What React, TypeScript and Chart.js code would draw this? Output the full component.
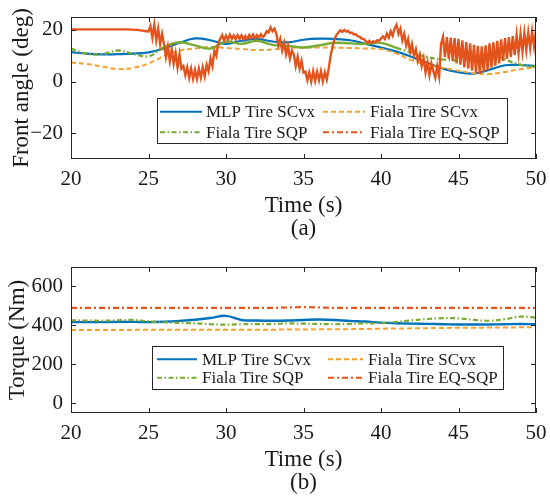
import React, { useEffect, useRef } from "react";
import { Chart, registerables } from "chart.js";

Chart.register(...registerables);

// ---------- data ----------
const seriesNames = ["MLP Tire SCvx", "Fiala Tire SCvx", "Fiala Tire SQP", "Fiala Tire EQ-SQP"];
const xTicks = [20, 25, 30, 35, 40, 45, 50];
const angleTicks = [-20, 0, 20];
const torqueTicks = [0, 200, 400, 600];

// sample times (s) for the smooth curves
const timeSmooth = [20, 21, 22, 23, 24, 25, 26, 27, 28, 29, 30, 31, 32, 33, 34, 35, 36, 37, 38, 39, 40, 41, 42, 43, 44, 45, 46, 47, 48, 49, 50];

// (a) front angle (deg)
const angleMLP = [11.4, 10.8, 10.5, 10.6, 10.8, 11.3, 12.8, 15.0, 16.7, 16.0, 14.6, 15.8, 16.5, 15.5, 15.2, 16.2, 16.6, 16.5, 16.0, 14.6, 13.2, 11.6, 9.5, 7.2, 5.0, 3.6, 3.1, 4.6, 6.3, 6.4, 6.0];
const angleSCvx = [7.4, 6.8, 5.8, 4.9, 5.3, 7.0, 9.8, 12.0, 12.8, 13.4, 13.0, 12.6, 12.2, 12.4, 13.0, 13.2, 13.2, 13.1, 13.0, 12.8, 12.6, 10.8, 8.2, 6.3, 5.3, 4.2, 3.2, 2.9, 3.7, 4.8, 5.6];
const angleSQP = [12.7, 10.8, 10.6, 12.0, 10.8, 9.8, 13.3, 15.2, 14.0, 12.8, 15.5, 14.6, 15.8, 14.2, 13.8, 13.2, 14.0, 15.0, 14.8, 14.6, 15.0, 13.0, 11.2, 9.5, 8.5, 8.3, 9.5, 10.8, 8.5, 6.5, 5.6];
// EQ-SQP sampled every 0.125 s from 20 s
const angleEQStart = 20;
const angleEQStep = 0.125;
const angleEQ = [
  20.2, 20.2, 20.2, 20.2, 20.2, 20.2, 20.2, 20.2, 20.2, 20.2, 20.2, 20.2, 20.2, 20.2, 20.2, 20.2,
  20.2, 20.2, 20.2, 20.2, 20.2, 20.2, 20.2, 20.2, 20.2, 20.2, 20.2, 20.2, 20.2, 20.2, 20.2,
  20.1, 20.1, 20.0, 20.0, 19.9, 19.8, 19.7, 19.6, 19.5, 19.4,
  21.5, 17.0, 22.0, 16.0, 20.5, 14.5, 18.5,
  14.5, 9.5, 13.5, 8.0, 12.5, 7.0, 11.0, 5.5, 10.5, 5.0,
  6.0, 2.5, 5.5, 1.5, 5.0, 1.0, 4.5, 1.0, 5.0, 1.5, 5.5, 2.0, 6.5,
  4.0, 9.0, 6.0, 12.0, 10.0, 15.0,
  16.5, 18.0, 16.0, 17.8, 16.2, 18.2, 16.5, 17.8, 16.4, 18.0, 16.6, 17.9, 16.3, 17.6, 16.5, 18.0, 16.8, 18.2, 16.7, 18.0, 17.0, 18.3, 17.2,
  18.0, 19.5, 19.0, 21.0, 19.5, 20.5,
  18.5, 14.0, 16.5, 12.0, 15.0, 10.5, 13.5, 9.0, 12.0,
  10.5, 6.0, 9.5, 5.0, 8.0, 3.5,
  3.8, 0.5, 3.5, 0.0, 4.0, 0.3, 3.8, 0.5, 4.0, 0.2, 3.6, 0.8,
  5.0, 10.0, 13.5, 16.5, 18.0, 19.0,
  19.8, 19.2, 20.0, 19.3, 19.6, 18.8, 19.0, 18.2, 18.3, 17.5, 17.4, 16.6, 16.5, 15.8,
  15.0, 15.8, 14.8, 15.6, 15.2, 16.0, 15.8, 16.6,
  17.5, 16.5, 18.5, 17.0, 19.5, 17.8, 20.5, 22.0,
  18.5, 20.5, 16.0, 18.5, 14.0, 16.5, 11.5, 14.5, 10.0, 12.5, 8.0, 10.5,
  6.0, 9.0, 3.5, 7.5, 2.5, 7.0, 4.0, 1.5, 6.0, 2.0,
  14.6,
  17.3, 9.5, 17.2, 8.8, 17.0, 8.0, 16.8, 7.0, 16.5, 6.5, 16.0, 5.5, 15.3, 5.0, 14.8, 4.2,
  14.2, 3.5, 13.8, 3.0, 13.6, 3.8, 14.0, 4.5, 14.8, 5.5, 15.2, 6.2, 15.8, 7.0, 16.3, 8.0,
  16.8, 8.8, 17.2, 9.5, 17.6, 10.2, 18.0, 11.0, 18.4, 11.6, 18.8, 12.2, 19.0, 13.0, 19.4, 13.6,
  19.6,
];

// (b) torque (Nm)
const torqueMLP = [417, 417, 417, 418, 418, 417, 419, 423, 429, 438, 449, 428, 425, 424, 425, 428, 430, 428, 423, 420, 414, 411, 409, 408, 406, 405, 405, 405, 406, 407, 406];
const torqueSCvx = [377, 377, 377, 377, 377, 378, 378, 378, 378, 378, 378, 378, 378, 378, 379, 379, 380, 380, 381, 382, 383, 384, 385, 386, 387, 388, 388, 389, 389, 390, 391];
const torqueSQP = [426, 425, 424, 426, 428, 421, 416, 413, 411, 406, 404, 406, 407, 407, 410, 409, 407, 406, 408, 410, 412, 418, 426, 433, 437, 436, 428, 424, 432, 445, 440];
const torqueEQ = [490, 490, 490, 490, 490, 490, 490, 490, 490, 490, 490, 490, 490, 490, 492, 494, 492, 490, 490, 490, 490, 490, 490, 490, 490, 490, 490, 490, 490, 490, 490];

// ---------- styling ----------
const FONT = '"Liberation Serif", "Times New Roman", serif';
const TEXT = "#1a1a1a";
const FRAME = "#262626";
const COLORS = ["#0072BD", "#F4A12E", "#77AC30", "#E3541C"];
const DASHES: number[][] = [[], [5, 3], [5, 2.5, 1.5, 2.5], [6, 3, 2, 3]];
const DRAW_ORDER = [3, 2, 1, 0];

const pts = (xs: number[], ys: number[]) => ys.map((y, i) => ({ x: xs[i], y }));
const stepPts = (start: number, step: number, ys: number[]) => ys.map((y, i) => ({ x: start + i * step, y }));

// solidSpans: per series, x-ranges where the line renders solid (dense sampling in the original)
function makeDatasets(series: { x: number; y: number }[][], tensions: number[], widths: number[], solidSpans: number[][][]) {
  return series.map((data, i) => ({
    label: seriesNames[i],
    data,
    borderColor: COLORS[i],
    backgroundColor: COLORS[i],
    borderWidth: widths[i],
    borderDash: DASHES[i],
    pointRadius: 0,
    tension: tensions[i],
    fill: false,
    order: DRAW_ORDER[i],
    segment: {
      borderDash: (ctx: any) => {
        const x = ctx.p0.parsed.x;
        return solidSpans[i].some(([a, b]) => x >= a && x < b) ? [] : undefined;
      },
    },
  }));
}

const framePlugin = {
  id: "frame",
  afterDatasetsDraw(chart: any, _args: any, opts: any) {
    const { ctx, chartArea: a, scales } = chart;
    ctx.save();
    ctx.setLineDash([]);
    ctx.strokeStyle = FRAME;
    ctx.lineWidth = 1;
    ctx.strokeRect(a.left + 0.5, a.top + 0.5, a.right - a.left - 1, a.bottom - a.top - 1);
    const tl = 5;
    ctx.beginPath();
    for (const v of xTicks) {
      const px = Math.round(scales.x.getPixelForValue(v)) + 0.5;
      ctx.moveTo(px, a.bottom);
      ctx.lineTo(px, a.bottom - tl);
      ctx.moveTo(px, a.top);
      ctx.lineTo(px, a.top + tl);
    }
    for (const v of opts.yTicks) {
      const py = Math.round(scales.y.getPixelForValue(v)) + 0.5;
      ctx.moveTo(a.left, py);
      ctx.lineTo(a.left + tl, py);
      ctx.moveTo(a.right, py);
      ctx.lineTo(a.right - tl, py);
    }
    ctx.stroke();

    // legend
    const L = opts.legend;
    const [x0, y0, x1, y1] = L.box;
    ctx.fillStyle = "#ffffff";
    ctx.fillRect(x0, y0, x1 - x0, y1 - y0);
    ctx.strokeStyle = FRAME;
    ctx.lineWidth = 1;
    ctx.strokeRect(x0 + 0.5, y0 + 0.5, x1 - x0, y1 - y0);
    const slots = [[0, 0], [1, 0], [0, 1], [1, 1]];
    chart.data.datasets.forEach((ds: any, i: number) => {
      const [c, r] = slots[i];
      const col = L.cols[c];
      const y = L.rows[r];
      ctx.beginPath();
      ctx.setLineDash(ds.borderDash || []);
      ctx.strokeStyle = ds.borderColor;
      ctx.lineWidth = 2;
      ctx.moveTo(col[0], y);
      ctx.lineTo(col[1], y);
      ctx.stroke();
      ctx.setLineDash([]);
      ctx.fillStyle = TEXT;
      ctx.font = `${L.fontSize}px ${FONT}`;
      ctx.textBaseline = "middle";
      ctx.textAlign = "left";
      ctx.fillText(ds.label, col[2], y + 1);
    });
    ctx.restore();
  },
};

const fmt = (v: number) => (v < 0 ? "\u2212" + Math.abs(v) : String(v));

function makeConfig(p: any): any {
  return {
    type: "line",
    data: { datasets: p.datasets },
    options: {
      animation: false,
      responsive: false,
      devicePixelRatio: 1,
      layout: { padding: { left: 0, right: 14, top: 17, bottom: 0 } },
      plugins: {
        legend: { display: false },
        tooltip: { enabled: false },
        frame: { yTicks: p.yTicks, legend: p.legend },
      },
      scales: {
        x: {
          type: "linear",
          min: 20,
          max: 50,
          grid: { display: false, drawTicks: false },
          border: { display: false },
          ticks: { font: { family: FONT, size: 21 }, color: TEXT, padding: 8, maxRotation: 0, callback: (v: number) => fmt(v) },
          afterBuildTicks: (s: any) => {
            s.ticks = xTicks.map((v) => ({ value: v }));
          },
          afterFit: (s: any) => {
            s.height = 91;
            s.paddingLeft = 0;
            s.paddingRight = 0;
          },
          title: {
            display: true,
            text: ["Time (s)", p.tag],
            font: { family: FONT, size: 23, lineHeight: 1 },
            color: TEXT,
            padding: { top: 0, bottom: 9.5 },
          },
        },
        y: {
          type: "linear",
          min: p.yMin,
          max: p.yMax,
          grid: { display: false, drawTicks: false },
          border: { display: false },
          ticks: { font: { family: FONT, size: 21 }, color: TEXT, padding: 8, callback: (v: number) => fmt(v) },
          afterBuildTicks: (s: any) => {
            s.ticks = p.yTicks.map((v: number) => ({ value: v }));
          },
          afterFit: (s: any) => {
            s.width = 71;
            s.paddingTop = 0;
            s.paddingBottom = 0;
          },
          title: {
            display: true,
            text: p.yTitle,
            font: { family: FONT, size: 23, lineHeight: 1 },
            color: TEXT,
            padding: { top: p.yTitlePad, bottom: 0 },
          },
        },
      },
    },
    plugins: [framePlugin],
  };
}

export default function App() {
  const topRef = useRef<HTMLCanvasElement>(null);
  const botRef = useRef<HTMLCanvasElement>(null);

  useEffect(() => {
    const top = new Chart(
      topRef.current as HTMLCanvasElement,
      makeConfig({
        datasets: makeDatasets(
          [
            pts(timeSmooth, angleMLP),
            pts(timeSmooth, angleSCvx),
            pts(timeSmooth, angleSQP),
            stepPts(angleEQStart, angleEQStep, angleEQ),
          ],
          [0.4, 0.4, 0.4, 0],
          [2.2, 2, 2.4, 2.4],
          [[], [], [[25.5, 40.5]], [[20, 50]]]
        ),
        yMin: -30,
        yMax: 25,
        yTicks: angleTicks,
        yTitle: "Front angle (deg)",
        yTitlePad: 10.5,
        tag: "(a)",
        legend: {
          box: [157, 98, 507, 143],
          rows: [111.7, 132.3],
          cols: [
            [160, 202, 206],
            [323, 365, 370],
          ],
          fontSize: 17,
        },
      })
    );
    const bot = new Chart(
      botRef.current as HTMLCanvasElement,
      makeConfig({
        datasets: makeDatasets(
          [
            pts(timeSmooth, torqueMLP),
            pts(timeSmooth, torqueSCvx),
            pts(timeSmooth, torqueSQP),
            pts(timeSmooth, torqueEQ),
          ],
          [0.4, 0.4, 0.4, 0.4],
          [2.4, 2, 2.2, 2.2],
          [[], [], [], []]
        ),
        yMin: -50,
        yMax: 700,
        yTicks: torqueTicks,
        yTitle: "Torque (Nm)",
        yTitlePad: 6,
        tag: "(b)",
        legend: {
          box: [152, 96, 503, 139],
          rows: [109.3, 127.7],
          cols: [
            [157, 197, 202],
            [328, 363, 368],
          ],
          fontSize: 17,
        },
      })
    );
    return () => {
      top.destroy();
      bot.destroy();
    };
  }, []);

  return (
    <div style={{ position: "absolute", left: 0, top: 0, width: 550, height: 504, background: "#fff" }}>
      <canvas ref={topRef} width={550} height={250} style={{ display: "block", width: 550, height: 250 }} />
      <canvas ref={botRef} width={550} height={254} style={{ display: "block", width: 550, height: 254 }} />
    </div>
  );
}
